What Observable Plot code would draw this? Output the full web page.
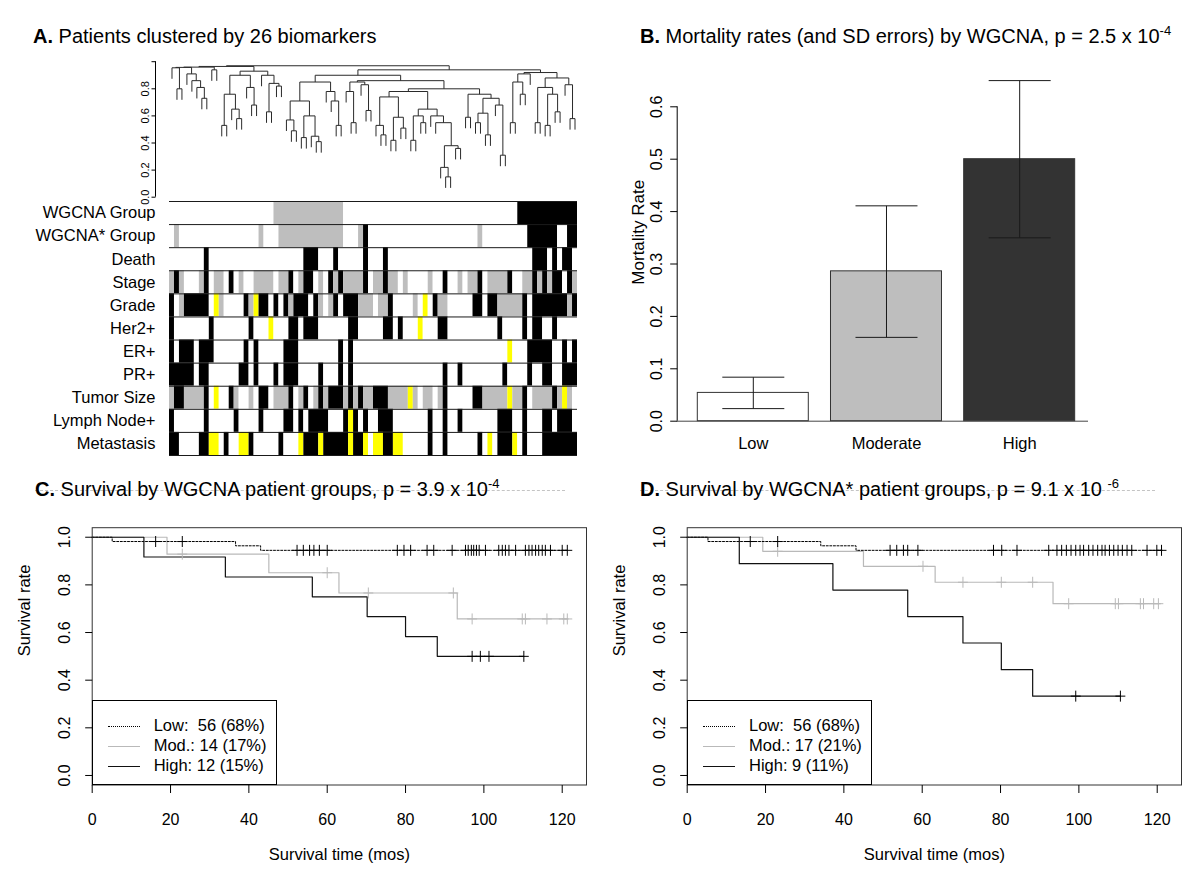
<!DOCTYPE html>
<html>
<head>
<meta charset="utf-8">
<script src="https://cdn.jsdelivr.net/npm/d3@7"></script>
<script src="https://cdn.jsdelivr.net/npm/@observablehq/plot@0.6"></script>
<style>
  html, body { margin: 0; padding: 0; background: #fff; }
  #root { position: relative; width: 1200px; height: 896px; overflow: hidden; background: #fff;
          font-family: "Liberation Sans", Arial, Helvetica, sans-serif; color: #000; }
  .title { position: absolute; font-size: 20px; line-height: 1; white-space: pre; z-index: 2; }
  .sup { font-size: 13px; position: relative; top: -8px; }
  .artifact { position: absolute; height: 0; border-top: 1px dashed #c4c4c4; z-index: 1; }
  .legend { position: absolute; border: 1px solid #000; background: #fff; box-sizing: border-box; z-index: 3; }
  .legend .row { position: absolute; font-size: 16.5px; line-height: 1; white-space: pre; }
  .legend .sample { position: absolute; height: 0; }
  svg { position: absolute; }
</style>
</head>
<body>
<div id="root"></div>
<script>
// ======================= DATA =======================
// Panel A: dendrogram (nested pairs, leaves "x" in left-to-right order, ":h" = merge height)
const treeLeftPart = `((((x,(x,x):0.80):0.955,(x,(x,(x,(x,x):0.73):0.81):0.86):0.91):0.958,(x,x):0.94):0.96,
  ((((x,x):0.53,(x,(x,x):0.58):0.65):0.76,(x,(x,x):0.68):0.81):0.90,(x,((x,x):0.63,(x,x):0.82):0.84):0.90):0.93):0.965`;
const treeMiddlePart = `((((x,(x,x):0.49):0.57,((x,x):0.44,(x,(x,x):0.41):0.45):0.60):0.71,(x,(x,(x,x):0.53):0.71):0.78):0.85,
  (((x,(x,x):0.55):0.78,(x,(x,x):0.64):0.83):0.85,
   ((((x,(x,x):0.46):0.53,((x,x):0.42,(x,x):0.51):0.59):0.74,
     (((x,x):0.42,(x,x):0.55):0.60,(x,(x,((x,(x,x):0.15):0.22,(x,x):0.36):0.38):0.55):0.60):0.65):0.78,
    ((x,x):0.59,(((x,x):0.55,(x,x):0.46):0.62,(x,(x,x):0.31):0.68):0.73):0.76):0.80):0.86):0.90`;
const treeRightPart = `((((x,x):0.55,(x,x):0.76):0.85,x):0.91,
  (((x,x):0.55,((x,x):0.53,(x,x):0.63):0.76):0.81,(x,(x,x):0.58):0.83):0.88):0.92`;
const dendroNewick = `(${treeLeftPart},(${treeMiddlePart},${treeRightPart}):0.94):0.97`;
const dendroTicks = [0, 0.2, 0.4, 0.6, 0.8, 1.0];
const dendroTickLabels = ["0.0", "0.2", "0.4", "0.6", "0.8", ""];

// Panel A: colour rows (w = white, g = grey, k = black, y = yellow), one char per patient
const heatRows = ["WGCNA Group", "WGCNA* Group", "Death", "Stage", "Grade", "Her2+", "ER+", "PR+", "Tumor Size", "Lymph Node+", "Metastasis"];
const heatCodes = [
  "wwwwwwwwww wwwwwwwwww wggggggggg gggggwwwww wwwwwwwwww wwwwwwwwww wwwwwwwwww kkkkkkkkkk kk",
  "wgwwwwwwww wwwwwwwwgw wwgggggggg gggggwwwgk wwwwwwwwww wwwwwwwwww wwgwwwwwww wwkkkkkkww kk",
  "wwwwwwwkww wwwwwwwwww wwwwwwwkkk wwwkwwwwwk wwwkwwwwww wwwwwwwwww wwwwwwwwww wwwkkkwkwk kw",
  "gkgwwwgkwg gwkwgwwggg gwggkwgkkw gwkgkggggk wggkggwgww wwgwwkwwgw ggkwggggkw wggkgkgkkw kg",
  "kwgkkkkkwy gwwwwkgykk wkwkgkkkwk gwgkwkkkgg gwggkwwwwg wywkggwwww wkkwkkgggg gkwkkkkkkk gk",
  "kwwwwwwwkw wwwwwwkwww ywwwkkwkkk wwwwwwkkww wwwkkwkwww ywwwkkwwww wwwwwwkwww wkwkkwwkww ww",
  "kwkkkwkkkw wwwwwkwkww wwwkkkwwww wwwwkwkwww wwwwwwwwww wwwwwwwwww wwwwwwwwyw wwkkkkkwwk wk",
  "kkkkkwkkww wwwwkkwkww wkwkkkwwww kwwwkwkwww wwwwwwwwww wwwwwkwwkw wwwwwwwkww wwkwwkkwwk kk",
  "gkkggggkwy wwkgwwgwkk wgggkwgkwg kgkkkgkgkg gkkkggggyg wggwgkwwww wkkgggggyg gkwggggkgy gw",
  "kwwwwwwkww wwwkwwwwkw wwwkkwkwkk kkwwwkykwk wwkkkwwwww wwkwwkwwkw wwwwwwkkkw wkwwwkkwkk kw",
  "kkwwwwkkyy wkwwyykwww wwkwwwykkk ykkkkkykky wyykkyywww wwkwwkwwww wwkwywkkky wkwwwkkkkk kk"
];
const codeColor = { w: "#ffffff", g: "#bebebe", k: "#000000", y: "#ffff00" };

// Panel B: mortality rates with SD error bars
const mortGroups = ["Low", "Moderate", "High"];
const mortRate = [0.054, 0.286, 0.500];
const mortSdLow = [0.024, 0.160, 0.350];
const mortSdHigh = [0.084, 0.411, 0.650];
const mortFill = ["#ffffff", "#bebebe", "#333333"];
const mortTicks = [0, 0.1, 0.2, 0.3, 0.4, 0.5, 0.6];

// Panel C: Kaplan-Meier curves by WGCNA group (step times, survival, censoring times)
const cLowTime = [0, 5.1, 36.6, 43.0, 121.3];
const cLowSurv = [1, 0.982, 0.964, 0.945, 0.945];
const cLowCens = [16.2, 23.0, 52.3, 53.9, 55.5, 56.6, 58.0, 60.0, 77.9, 79.6, 81.3, 85.5, 87.2, 91.9,
  95.3, 96.0, 96.8, 97.4, 98.1, 98.8, 100.4, 103.8, 104.7, 105.5, 106.4, 108.1, 110.6, 111.5, 112.3,
  113.2, 114.0, 114.9, 115.7, 117.0, 120.0, 121.3];
const cModTime = [0, 19.1, 45.1, 63.0, 93.2, 121.3];
const cModSurv = [1, 0.929, 0.851, 0.766, 0.657, 0.657];
const cModCens = [23.0, 60.0, 70.5, 92.2, 97.0, 109.8, 110.6, 116.1, 120.4, 121.3];
const cHighTime = [0, 13.2, 34.0, 56.2, 70.2, 80.0, 88.1, 110.2];
const cHighSurv = [1, 0.917, 0.833, 0.750, 0.667, 0.583, 0.500, 0.500];
const cHighCens = [97.0, 99.1, 101.3, 110.2];
const cLegend = ["Low:  56 (68%)", "Mod.: 14 (17%)", "High: 12 (15%)"];

// Panel D: Kaplan-Meier curves by WGCNA* group
const dLowTime = [0, 5.3, 34.1, 43.1, 121.3];
const dLowSurv = [1, 0.982, 0.964, 0.945, 0.945];
const dLowCens = [16.1, 23.1, 51.8, 53.5, 55.2, 56.3, 58.9, 78.2, 80.3, 84.2, 92.3, 94.4, 95.6, 96.8,
  98.0, 99.2, 100.3, 101.2, 102.5, 103.6, 104.8, 105.9, 106.7, 107.8, 108.9, 110.0, 111.1, 112.3,
  113.5, 117.4, 119.9, 121.1];
const dModTime = [0, 19.3, 45.0, 63.3, 93.4, 120.8];
const dModSurv = [1, 0.941, 0.878, 0.811, 0.721, 0.721];
const dModCens = [23.1, 60.2, 70.4, 80.2, 88.2, 97.4, 109.3, 110.1, 115.7, 116.5, 119.1, 120.3];
const dHighTime = [0, 13.3, 37.2, 56.3, 70.4, 80.2, 88.2, 110.6];
const dHighSurv = [1, 0.889, 0.778, 0.667, 0.556, 0.444, 0.333, 0.333];
const dHighCens = [99.2, 110.6];
const dLegend = ["Low:  56 (68%)", "Mod.: 17 (21%)", "High: 9 (11%)"];

const survXTicks = [0, 20, 40, 60, 80, 100, 120];
const survYTicks = [0, 0.2, 0.4, 0.6, 0.8, 1.0];

// ======================= DRAWING =======================
const FONT = '"Liberation Sans", Arial, Helvetica, sans-serif';
const root = document.getElementById("root");
const GREY = "#b9b9b9";
function svgStyle() {
  return { background: "transparent", overflow: "visible", fontFamily: FONT, fontSize: "16px", color: "#000" };
}
function place(el, left, top) {
  el.style.position = "absolute"; el.style.left = left + "px"; el.style.top = top + "px";
  root.appendChild(el); return el;
}
function div(cls, left, top, html, extra) {
  const d = document.createElement("div"); d.className = cls; d.innerHTML = html || "";
  d.style.left = left + "px"; d.style.top = top + "px";
  if (extra) Object.assign(d.style, extra);
  root.appendChild(d); return d;
}

// ---------- Panel A: dendrogram ----------
function parseTree(str) {
  const s = str.replace(/\s+/g, "");
  let i = 0, leaf = 0;
  function node() {
    if (s[i] === "(") {
      i++; const a = node(); i++; const b = node(); i++; i++;
      const j = i; while (i < s.length && /[0-9.]/.test(s[i])) i++;
      return { h: +s.slice(j, i), kids: [a, b] };
    }
    i++; return { leaf: leaf++ };
  }
  const t = node(); return { tree: t, n: leaf };
}
const nCols = heatCodes[0].replace(/\s/g, "").length;
const { tree: dendro } = parseTree(dendroNewick);
(function lay(n) { if (n.kids) { n.kids.forEach(lay); n.x = (n.kids[0].x + n.kids[1].x) / 2; } else n.x = n.leaf + 0.5; })(dendro);

const dTop = 40, dH = 165, dFrameL = 169, dFrameR = 577, dY0 = 196.7, dY1 = 61.2;
const dUx = (dFrameR - dFrameL) / nCols;          // px per column
const dHang = 11 / (dY0 - dY1);                   // leaf hang in height units
const dendroSegs = [];
(function segs(n) {
  if (!n.kids) return;
  const [a, b] = n.kids;
  dendroSegs.push({ x1: a.x, x2: b.x, y1: n.h, y2: n.h });
  for (const c of n.kids) {
    dendroSegs.push({ x1: c.x, x2: c.x, y1: n.h, y2: c.kids ? c.h : n.h - dHang });
    segs(c);
  }
})(dendro);
const dAxisX = (155 - dFrameL) / dUx;

place(Plot.plot({
  width: 600, height: dH,
  marginLeft: dFrameL, marginRight: 600 - dFrameR, marginTop: dY1 - dTop, marginBottom: dTop + dH - dY0,
  x: { domain: [0, nCols], axis: null },
  y: { domain: [0, 1], axis: null },
  style: svgStyle(),
  marks: [
    Plot.link(dendroSegs, { x1: "x1", y1: "y1", x2: "x2", y2: "y2", stroke: "#2a2a2a", strokeWidth: 1 }),
    Plot.ruleX([dAxisX], { y1: 0, y2: 1, stroke: "#000", strokeWidth: 1 }),
    Plot.link(dendroTicks, { x1: dAxisX, x2: dAxisX - 4 / dUx, y1: d => d, y2: d => d, stroke: "#000" }),
    Plot.text(dendroTicks, { x: dAxisX - 10 / dUx, y: d => d, text: (d, i) => dendroTickLabels[i],
      rotate: -90, fontSize: 11, textAnchor: "middle", fill: "#000" })
  ]
}), 0, dTop);

// ---------- Panel A: colour rows ----------
const heatRuns = [];
heatCodes.forEach((raw, r) => {
  const code = raw.replace(/\s/g, "");
  let start = 0;
  for (let i = 1; i <= code.length; i++) {
    if (i === code.length || code[i] !== code[start]) {
      heatRuns.push({ row: r, x1: start, x2: i, fill: codeColor[code[start]] });
      start = i;
    }
  }
});
const hTop = 195, hH = 265, hY0 = 201, hY1 = 455;
place(Plot.plot({
  width: 600, height: hH,
  marginLeft: dFrameL, marginRight: 600 - dFrameR, marginTop: hY0 - hTop, marginBottom: hTop + hH - hY1,
  x: { domain: [0, nCols], axis: null },
  y: { domain: [0, heatRows.length], reverse: true, axis: null },
  color: { type: "identity" },
  style: svgStyle(),
  marks: [
    Plot.rect(heatRuns, { x1: "x1", x2: "x2", y1: "row", y2: d => d.row + 1, fill: "fill" }),
    Plot.ruleY(d3.range(heatRows.length + 1), { stroke: "#1a1a1a", strokeWidth: 1 }),
    Plot.text(heatRows, { x: 0, y: (d, i) => i + 0.5, dx: -14, text: d => d, textAnchor: "end",
      fontSize: 16.5, fill: "#000" })
  ]
}), 0, hTop);

// ---------- Panel B: bar chart ----------
const bTop = 40, bH = 430, bLeft = 600;
const bFrameL = 676.7, bFrameR = 1088, bY0 = 420.7, bY6 = 106.3;
const bXdom = [0.0144, 3.72];
const bUx = (bFrameR - bFrameL) / (bXdom[1] - bXdom[0]);
const bUy = (bY0 - bY6) / 0.6;
const bars = mortGroups.map((g, i) => ({
  g, v: mortRate[i], lo: mortSdLow[i], hi: mortSdHigh[i], fill: mortFill[i],
  x1: 0.2 + 1.2 * i, x2: 1.2 + 1.2 * i, xc: 0.7 + 1.2 * i
}));
const cap = 31 / bUx;
place(Plot.plot({
  width: 600, height: bH,
  marginLeft: bFrameL - bLeft, marginRight: bLeft + 600 - bFrameR, marginTop: bY6 - bTop, marginBottom: bTop + bH - bY0,
  x: { domain: bXdom, axis: null },
  y: { domain: [0, 0.6], axis: null },
  color: { type: "identity" },
  style: svgStyle(),
  marks: [
    Plot.rect(bars, { x1: "x1", x2: "x2", y1: 0, y2: "v", fill: "fill", stroke: "#333", strokeWidth: 1 }),
    Plot.link(bars, { x1: "xc", x2: "xc", y1: "lo", y2: "hi", stroke: "#1a1a1a", strokeWidth: 1 }),
    Plot.link(bars, { x1: d => d.xc - cap, x2: d => d.xc + cap, y1: "hi", y2: "hi", stroke: "#1a1a1a" }),
    Plot.link(bars, { x1: d => d.xc - cap, x2: d => d.xc + cap, y1: "lo", y2: "lo", stroke: "#1a1a1a" }),
    Plot.ruleY([0], { stroke: "#444", strokeWidth: 1 }),
    Plot.ruleX([bXdom[0]], { y1: 0, y2: 0.6, stroke: "#000" }),
    Plot.link(mortTicks, { x1: bXdom[0], x2: bXdom[0] - 7 / bUx, y1: d => d, y2: d => d, stroke: "#000" }),
    Plot.text(mortTicks, { x: bXdom[0], y: d => d, dx: -20, text: d => d.toFixed(1), rotate: -90,
      fontSize: 16, textAnchor: "middle", fill: "#000" }),
    Plot.text(["Mortality Rate"], { x: bXdom[0], y: (bY0 - 231.7) / bUy, dx: -38.7, text: d => d, rotate: -90,
      fontSize: 17, textAnchor: "middle", fill: "#000" }),
    Plot.text(bars, { x: "xc", y: 0, dy: 22.5, text: "g", fontSize: 16.5, fill: "#000" })
  ]
}), bLeft, bTop);

// ---------- Panels C & D: survival ----------
function stepAt(times, surv, t) {
  let s = surv[0];
  for (let i = 0; i < times.length; i++) if (times[i] <= t) s = surv[i];
  return s;
}
const plusSymbol = {
  draw(ctx, size) {
    const r = Math.sqrt(size / Math.PI);
    ctx.moveTo(-r * 0.9, 0); ctx.lineTo(r * 0.9, 0);
    ctx.moveTo(0, -r); ctx.lineTo(0, r);
  }
};
const sTop = 470, sH = 426, sFrameL = 91.7, sFrameR = 586, sYtop = 527.2, sYbot = 784.5;
const sXdom = [0, 126.2], sYdom = [-0.04, 1.04];
const sUx = (sFrameR - sFrameL) / (sXdom[1] - sXdom[0]);
const sUy = (sYbot - sYtop) / (sYdom[1] - sYdom[0]);

function survPlot(left, groups) {
  const marks = [];
  for (const g of groups) {
    const pts = g.time.map((t, i) => ({ t, s: g.surv[i] }));
    marks.push(Plot.line(pts, { x: "t", y: "s", curve: "step-after", stroke: g.stroke,
      strokeWidth: g.width, strokeDasharray: g.dash }));
  }
  for (const g of groups) {
    const cens = g.cens.map(t => ({ t, s: stepAt(g.time, g.surv, t) }));
    marks.push(Plot.dot(cens, { x: "t", y: "s", symbol: plusSymbol, r: 5.5, stroke: g.markStroke,
      fill: "none", strokeWidth: 1 }));
  }
  marks.push(
    Plot.frame({ stroke: "#333", strokeWidth: 1 }),
    Plot.link(survXTicks, { x1: d => d, x2: d => d, y1: sYdom[0], y2: sYdom[0] - 8 / sUy, stroke: "#000" }),
    Plot.text(survXTicks, { x: d => d, y: sYdom[0], dy: 35, text: d => String(d), fontSize: 16, fill: "#000" }),
    Plot.link(survYTicks, { x1: 0, x2: -7 / sUx, y1: d => d, y2: d => d, stroke: "#000" }),
    Plot.text(survYTicks, { x: 0, y: d => d, dx: -27, text: d => d.toFixed(1), rotate: -90,
      fontSize: 16, textAnchor: "middle", fill: "#000" }),
    Plot.text(["Survival time (mos)"], { frameAnchor: "bottom", dy: 74.5, text: d => d, fontSize: 16.5, fill: "#000" }),
    Plot.text(["Survival rate"], { frameAnchor: "left", dx: -67, text: d => d, rotate: -90, fontSize: 16.5, fill: "#000" })
  );
  return place(Plot.plot({
    width: 600, height: sH,
    marginLeft: sFrameL, marginRight: 600 - sFrameR, marginTop: sYtop - sTop, marginBottom: sTop + sH - sYbot,
    x: { domain: sXdom, axis: null },
    y: { domain: sYdom, axis: null },
    style: svgStyle(),
    marks
  }), left, sTop);
}
function groupsOf(lowT, lowS, lowC, modT, modS, modC, hiT, hiS, hiC) {
  return [
    { time: modT, surv: modS, cens: modC, stroke: GREY, markStroke: GREY, width: 1.2 },
    { time: lowT, surv: lowS, cens: lowC, stroke: "#000", markStroke: "#000", width: 1, dash: "2,1.6" },
    { time: hiT, surv: hiS, cens: hiC, stroke: "#111", markStroke: "#000", width: 1.2 }
  ];
}
survPlot(0, groupsOf(cLowTime, cLowSurv, cLowCens, cModTime, cModSurv, cModCens, cHighTime, cHighSurv, cHighCens));
survPlot(595.3, groupsOf(dLowTime, dLowSurv, dLowCens, dModTime, dModSurv, dModCens, dHighTime, dHighSurv, dHighCens));

// legends
function legend(left, labels) {
  const box = div("legend", left, 700, "", { width: "185px", height: (sYbot - 700 + 0.5) + "px" });
  const styles = [
    "border-top:1.3px dotted #000",
    "border-top:1.3px solid " + GREY,
    "border-top:1.3px solid #111"
  ];
  labels.forEach((lab, i) => {
    const cy = 25 + i * 20;
    const s = document.createElement("div"); s.className = "sample";
    s.style.cssText = `left:15px;width:32px;top:${cy}px;${styles[i]}`;
    box.appendChild(s);
    const t = document.createElement("div"); t.className = "row"; t.textContent = lab;
    t.style.left = "61px"; t.style.top = (cy - 9) + "px";
    box.appendChild(t);
  });
}
legend(sFrameL, cLegend);
legend(sFrameL + 595.3, dLegend);

// ---------- titles ----------
div("artifact", 35, 490, "", { width: "530px" });
div("artifact", 640, 490, "", { width: "515px" });
div("title", 33, 26, "<b>A.</b> Patients clustered by 26 biomarkers");
div("title", 640, 26, '<b>B.</b> Mortality rates (and SD errors) by WGCNA, p = 2.5 x 10<span class="sup">-4</span>');
div("title", 35, 479, '<b>C.</b> Survival by WGCNA patient groups, p = 3.9 x 10<span class="sup">-4</span>');
div("title", 640, 479, '<b>D.</b> Survival by WGCNA* patient groups, p = 9.1 x 10 <span class="sup">-6</span>');
</script>
</body>
</html>
